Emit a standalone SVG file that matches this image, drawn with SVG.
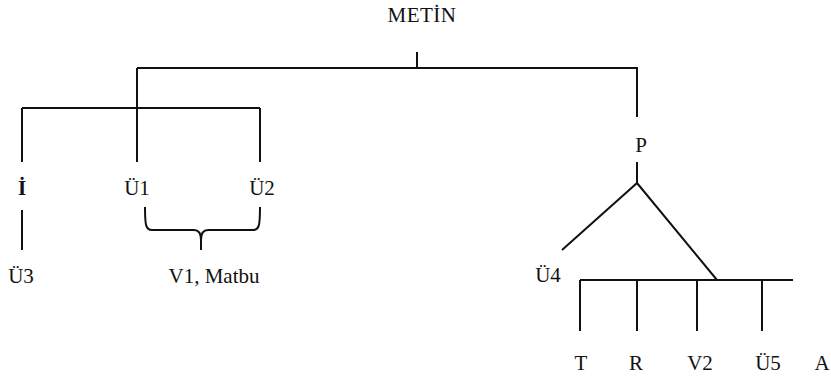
<svg xmlns="http://www.w3.org/2000/svg" width="831" height="377" viewBox="0 0 831 377">
<style>
text{font-family:"Liberation Serif","Times New Roman",serif;font-size:21px;fill:#111;text-anchor:middle}
.c{stroke:#111;stroke-width:2;fill:none}
</style>
<rect width="831" height="377" fill="#fff"/>
<g id="connectors">
<path class="c" d="M417,52V68M137,68H637V117"/>
<path class="c" d="M137,68V162M22,108H260M22,108V162M260,108V162"/>
<path class="c" d="M22,210V250"/>
<path class="c" d="M145,207C145,226 146,230 152,230H194C199,230 201,233 201,240V250M201,240C201,233 203,230 208,230H253C259,230 260,226 260,207"/>
<path class="c" d="M637,162V183L562,250M637,183L717,280"/>
<path class="c" d="M580,280H793M580,280V331M637,280V331M697,280V331M762,280V331"/>
</g>
<g id="metin"><text x="422" y="22" letter-spacing="0.5">METİN</text></g>
<g id="i"><text x="22" y="195" font-weight="bold">İ</text></g>
<g id="u1"><text x="137" y="195">Ü1</text></g>
<g id="u2"><text x="262" y="195">Ü2</text></g>
<g id="u3"><text x="21" y="283">Ü3</text></g>
<g id="v1"><text x="214" y="283">V1, Matbu</text></g>
<g id="p"><text x="641" y="152">P</text></g>
<g id="u4"><text x="548" y="282">Ü4</text></g>
<g id="t"><text x="581" y="370">T</text></g>
<g id="r"><text x="636" y="370">R</text></g>
<g id="v2"><text x="700" y="370">V2</text></g>
<g id="u5"><text x="768" y="370">Ü5</text></g>
<g id="a"><text x="822" y="370">A</text></g>
</svg>
